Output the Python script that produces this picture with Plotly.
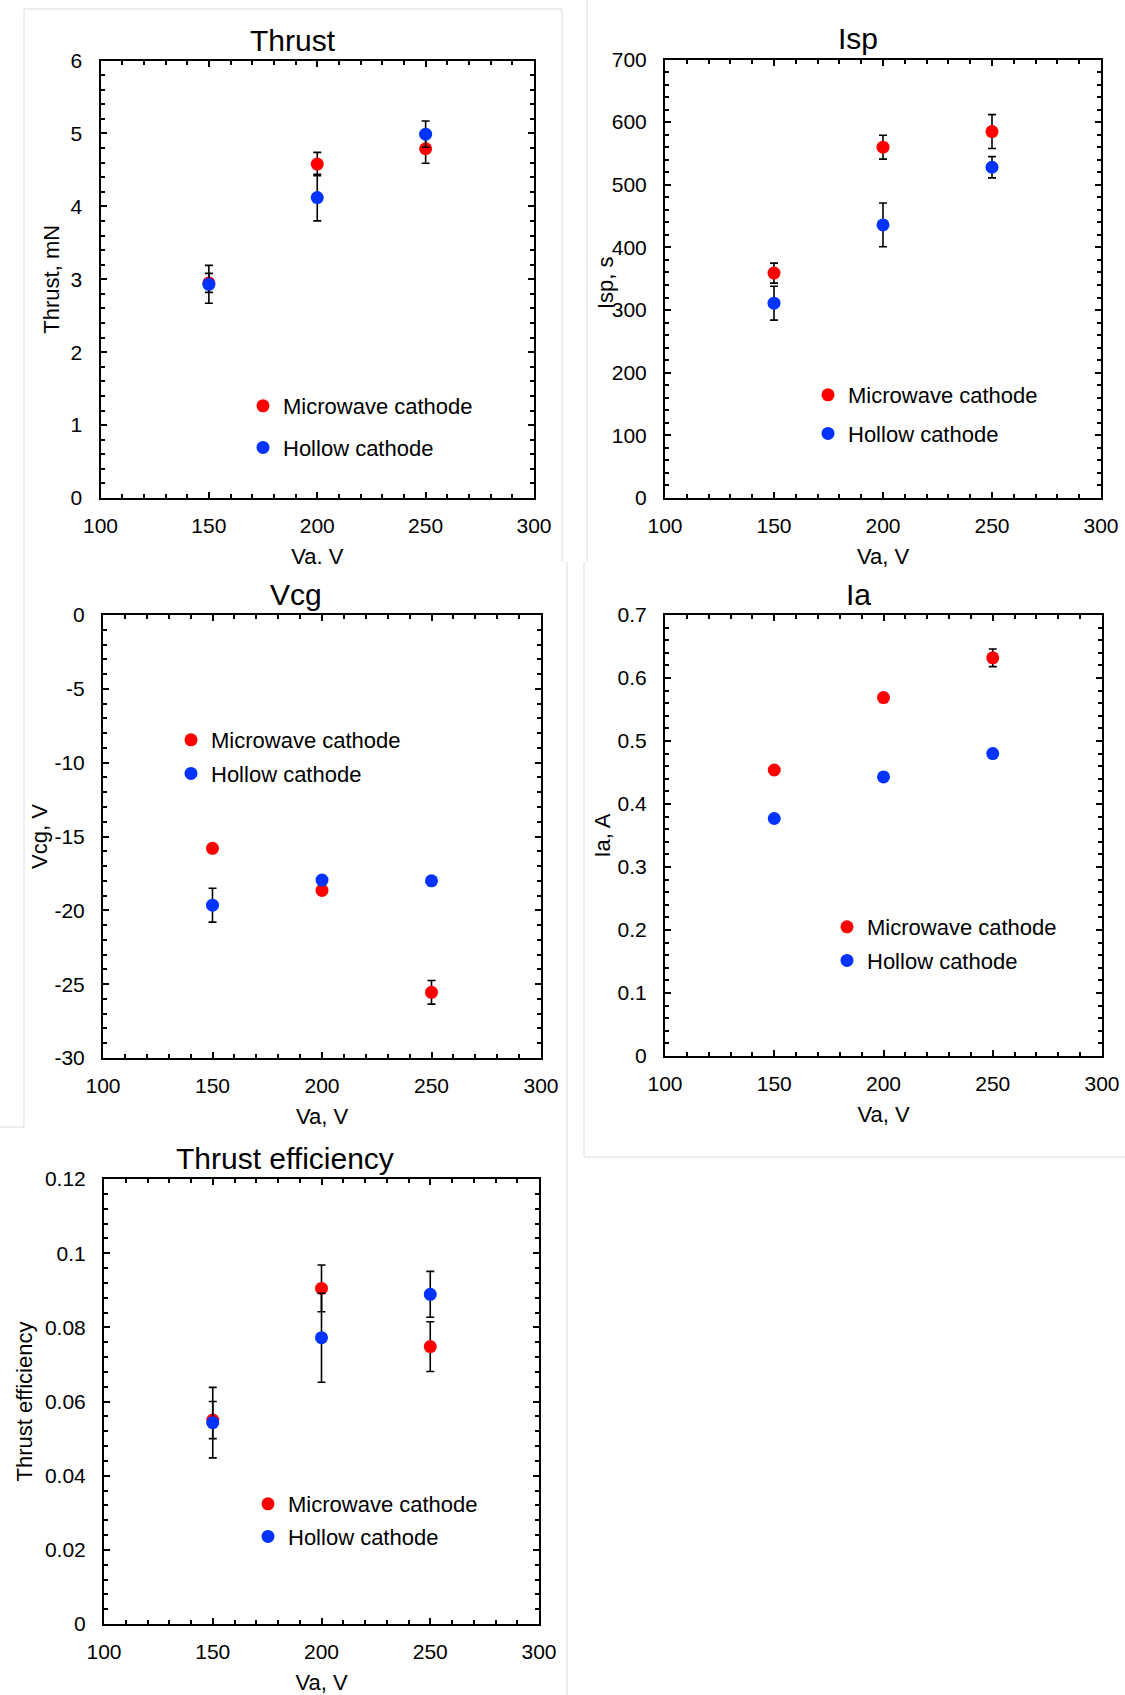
import plotly.graph_objects as go

W, H = 1125, 1695

# ---------------- data ----------------
va = [150, 200, 250]
x_tickvals = [100, 150, 200, 250, 300]

series_names = ["Microwave cathode", "Hollow cathode"]

thrust_mw = [2.95, 4.58, 4.79]
thrust_mw_err = [0.13, 0.16, 0.20]
thrust_hc = [2.93, 4.12, 4.99]
thrust_hc_err = [0.26, 0.32, 0.18]

isp_mw = [359, 560, 585]
isp_mw_err = [16, 19, 27]
isp_hc = [311, 436, 528]
isp_hc_err = [27, 35, 17]

vcg_mw = [-15.8, -18.65, -25.55]
vcg_mw_err = [0, 0, 0.8]
vcg_hc = [-19.65, -17.95, -18.0]
vcg_hc_err = [1.15, 0, 0]
vcg_tickvals = [-30, -25, -20, -15, -10, -5, 0]
vcg_ticktext = ["-30", "-25", "-20", "-15", "-10", "-5", "0"]

ia_mw = [0.454, 0.569, 0.632]
ia_mw_err = [0, 0, 0.014]
ia_hc = [0.377, 0.443, 0.480]
ia_hc_err = [0, 0, 0]

eff_mw = [0.055, 0.0905, 0.0748]
eff_mw_err = [0.005, 0.0063, 0.0067]
eff_hc = [0.0543, 0.0772, 0.0889]
eff_hc_err = [0.0095, 0.012, 0.0062]

# ---------------- styles / layout ----------------
FONT = "Liberation Sans, Arial, sans-serif"
RED = "#FF0000"
BLUE = "#0033FF"

panels = [
    dict(title="Thrust", ytitle="Thrust, mN", xtitle="Va. V",
         mw=thrust_mw, mwe=thrust_mw_err, hc=thrust_hc, hce=thrust_hc_err,
         yr=[0, 6], dt=1, mdt=0.2,
         box=(100.5, 534, 60.5, 498), tcx=293, tcy=40,
         leg=(268, 405), gap=10, ystand=5),
    dict(title="Isp", ytitle="Isp, s", xtitle="Va, V",
         mw=isp_mw, mwe=isp_mw_err, hc=isp_hc, hce=isp_hc_err,
         yr=[0, 700], dt=100, mdt=20,
         box=(665, 1101, 59.5, 498), tcx=858, tcy=38,
         leg=(833, 394), gap=7, ystand=None),
    dict(title="Vcg", ytitle="Vcg, V", xtitle="Va, V",
         mw=vcg_mw, mwe=vcg_mw_err, hc=vcg_hc, hce=vcg_hc_err,
         yr=[-30, 0], dt=5, mdt=1,
         box=(103, 541, 615, 1058), tcx=296, tcy=594,
         leg=(196, 739), gap=2, ystand=1),
    dict(title="Ia", ytitle="Ia, A", xtitle="Va, V",
         mw=ia_mw, mwe=ia_mw_err, hc=ia_hc, hce=ia_hc_err,
         yr=[0, 0.7], dt=0.1, mdt=0.02,
         box=(665, 1102, 615, 1056), tcx=858, tcy=594,
         leg=(852, 926), gap=2, ystand=1),
    dict(title="Thrust efficiency", ytitle="Thrust efficiency", xtitle="Va, V",
         mw=eff_mw, mwe=eff_mw_err, hc=eff_hc, hce=eff_hc_err,
         yr=[0, 0.12], dt=0.02, mdt=0.004,
         box=(104, 539, 1179, 1624), tcx=285, tcy=1158,
         leg=(273, 1503), gap=1, ystand=6),
]

fig = go.Figure()
layout = dict(
    width=W, height=H,
    margin=dict(l=0, r=0, t=0, b=0, autoexpand=False),
    paper_bgcolor="white", plot_bgcolor="white",
    font=dict(family=FONT, color="black"),
    annotations=[], shapes=[],
)

for i, p in enumerate(panels, start=1):
    sfx = "" if i == 1 else str(i)
    xa, ya = "x" + sfx, "y" + sfx
    legname = "legend" + sfx
    for name, y, e, col in ((series_names[0], p["mw"], p["mwe"], RED),
                            (series_names[1], p["hc"], p["hce"], BLUE)):
        fig.add_trace(go.Scatter(
            x=va, y=y, mode="markers", name=name,
            marker=dict(color=col, size=13, line=dict(width=0)),
            error_y=dict(type="data", array=e, visible=True,
                         color="black", thickness=1.6, width=4),
            xaxis=xa, yaxis=ya, legend=legname,
            legendgroup=f"{i}-{name}",
        ))
    x0, x1, y0, y1 = p["box"]
    common = dict(showline=True, linecolor="black", linewidth=2, mirror="ticks",
                  ticks="inside", ticklen=6, tickwidth=2, tickcolor="black",
                  showgrid=False, zeroline=False, automargin=False,
                  tickfont=dict(size=21, color="black", family=FONT))
    layout["xaxis" + sfx] = dict(
        common, domain=[x0 / W, x1 / W], anchor=ya, range=[100, 300],
        tickvals=x_tickvals, ticklabelstandoff=8,
        minor=dict(dtick=10, ticks="inside", ticklen=4, tickwidth=2, tickcolor="black"),
        title=dict(text=p["xtitle"], font=dict(size=22, color="black"), standoff=12),
    )
    yax = dict(
        common, domain=[1 - y1 / H, 1 - y0 / H], anchor=xa, range=p["yr"],
        dtick=p["dt"], ticklabelstandoff=12,
        minor=dict(dtick=p["mdt"], ticks="inside", ticklen=4, tickwidth=2, tickcolor="black"),
    )
    if p["ystand"] is not None:
        yax["title"] = dict(text=p["ytitle"], font=dict(size=22, color="black"),
                            standoff=p["ystand"])
    else:
        # title sits closer to the tick labels than an axis title allows
        layout["annotations"].append(dict(
            text=p["ytitle"], x=605 / W, y=1 - 283 / H, xref="paper", yref="paper",
            xanchor="center", yanchor="middle", textangle=-90, showarrow=False,
            font=dict(size=22, color="black", family=FONT),
        ))
    if i == 3:
        yax["tickvals"] = vcg_tickvals
        yax["ticktext"] = vcg_ticktext
        yax.pop("dtick")
    layout["yaxis" + sfx] = yax
    mx, my = p["leg"]
    layout[legname] = dict(
        x=(mx - 25) / W, y=1 - (my - 20) / H, xanchor="left", yanchor="top",
        bgcolor="rgba(0,0,0,0)", borderwidth=0, itemwidth=30,
        font=dict(size=22, color="black", family=FONT),
        tracegroupgap=p["gap"],
    )
    layout["annotations"].append(dict(
        text=p["title"], x=p["tcx"] / W, y=1 - p["tcy"] / H, xref="paper", yref="paper",
        xanchor="center", yanchor="middle", showarrow=False,
        font=dict(size=30, color="black", family=FONT),
    ))

# faint panel borders of the pasted images
border_lines = [
    (24, 9, 24, 1127), (24, 9, 562, 9), (562, 9, 562, 562), (0, 1127, 24, 1127),
    (587, 0, 587, 562), (567, 562, 567, 1695), (584, 562, 584, 1157), (584, 1157, 1125, 1157),
]
for (ax0, ay0, ax1, ay1) in border_lines:
    layout["shapes"].append(dict(
        type="line", xref="paper", yref="paper",
        x0=ax0 / W, x1=ax1 / W, y0=1 - ay0 / H, y1=1 - ay1 / H,
        line=dict(color="#dcdcdc", width=1), layer="below",
    ))

fig.update_layout(**layout)
fig.write_html("out.html",
               config={"displayModeBar": False},
               post_script="document.body.style.margin='0px';document.body.style.overflow='hidden';")
